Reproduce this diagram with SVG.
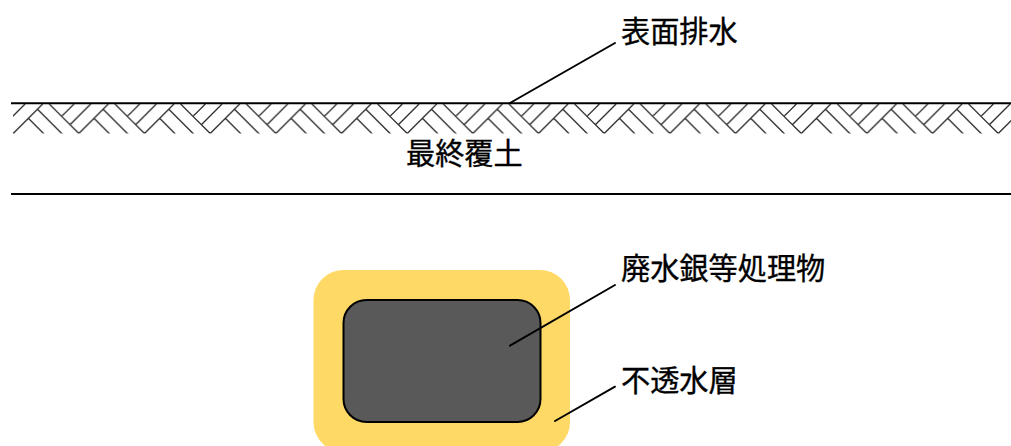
<svg xmlns="http://www.w3.org/2000/svg" width="1011" height="446" viewBox="0 0 1011 446">
<style>
.lbl{font-family:"Noto Sans CJK JP","Noto Sans",sans-serif;font-size:29.2px;fill:#000;stroke:#000;stroke-width:.35}
.conn{stroke:#000;stroke-width:2;fill:none;stroke-linecap:round}
.ground{stroke:#000;stroke-width:2;fill:none}
</style>
<defs>
<pattern id="herring" patternUnits="userSpaceOnUse" x="0" y="104" width="65.67" height="60">
<path fill="none" stroke="#2e2a2a" stroke-width="1.3" d="M42.67 0L12.67 30M25 0L4.3 20.7M8.33 0L-3.5 11.8M74 0L62.17 11.8M-16.33 0L14 30.3M49.33 0L79.67 30.3M37.5 5.17L62.5 30.17M28.33 14.33L44 30"/>
</pattern>
</defs>
<rect width="1011" height="446" fill="#fff"/>
<g id="final-cover">
<rect x="13" y="104" width="998" height="29.5" fill="url(#herring)"/>
<path class="ground" d="M11 103.200H1011M11 194H1011"/>
<text class="lbl" x="406" y="164">最終覆土</text>
</g>
<g id="impermeable-layer">
<rect x="313.500" y="270" width="256.500" height="182" rx="30" ry="30" fill="#ffd966"/>
<text class="lbl" x="621" y="391">不透水層</text>
</g>
<g id="waste">
<rect x="343.500" y="300" width="197" height="122" rx="23" ry="23" fill="#595959" stroke="#000" stroke-width="2"/>
<text class="lbl" x="621" y="279">廃水銀等処理物</text>
</g>
<g id="surface-drain">
<text class="lbl" x="621" y="42">表面排水</text>
</g>
<g id="connectors">
<path class="conn" d="M615 43L510 103"/>
<path class="conn" d="M615 285L510 345.700"/>
<path class="conn" d="M615 386.700L555 421"/>
</g>
</svg>
